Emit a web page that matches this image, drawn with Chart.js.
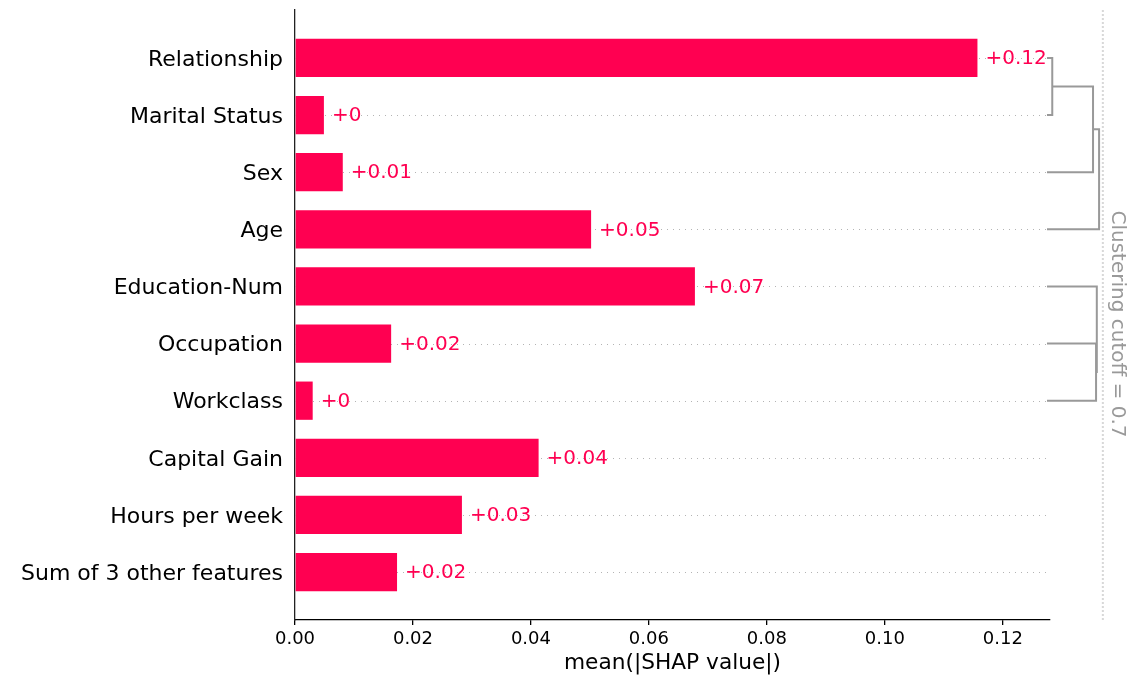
<!DOCTYPE html>
<html>
<head>
<meta charset="utf-8">
<script src="https://cdn.jsdelivr.net/npm/chart.js@4.4.0/dist/chart.umd.min.js"></script>
<style>
  html, body { margin: 0; padding: 0; background: #fff; }
</style>
</head>
<body>
<canvas id="chart" width="1141" height="680"></canvas>
<script>
// features, top to bottom
var features = ['Relationship', 'Marital Status', 'Sex', 'Age', 'Education-Num',
  'Occupation', 'Workclass', 'Capital Gain', 'Hours per week', 'Sum of 3 other features'];
// mean(|SHAP value|)
var meanShap = [0.1157, 0.0049, 0.0081, 0.0502, 0.0678, 0.0163, 0.0030, 0.0413, 0.0283, 0.0173];
var xTicks = [0, 0.02, 0.04, 0.06, 0.08, 0.10, 0.12];
var xMax = 0.128;

// clustering: [nodeA, nodeB, distance]. ids < features.length are leaves,
// every merge gets the next id (10, 11, ...)
var linkage = [
  [0, 1, 0.03],
  [10, 2, 0.57],
  [11, 3, 0.65],
  [5, 6, 0.61],
  [4, 13, 0.62]
];
var leafDist = -0.04;   // leaf stubs start a little inside the axis
var clusterCutoff = 0.7;

var RED = '#ff0051';
var FONT = '"DejaVu Sans", sans-serif';

function fmt(v) {
  return '+' + String(Math.round(v * 100) / 100);
}

var shapExtras = {
  id: 'shapExtras',
  beforeDatasetsDraw: function(chart) {
    var ctx = chart.ctx, area = chart.chartArea, ys = chart.scales.y;
    // dotted row guides
    ctx.save();
    ctx.strokeStyle = '#b4b4b4';
    ctx.lineWidth = 1;
    ctx.setLineDash([1, 5]);
    features.forEach(function(f, i) {
      var py = Math.round(ys.getPixelForValue(i)) + 0.5;
      ctx.beginPath();
      ctx.moveTo(area.left, py);
      ctx.lineTo(area.right, py);
      ctx.stroke();
    });
    ctx.restore();
  },
  afterDatasetsDraw: function(chart) {
    var ctx = chart.ctx, area = chart.chartArea;
    var xs = chart.scales.x, ys = chart.scales.y;
    var meta = chart.getDatasetMeta(0);

    // value labels
    ctx.save();
    ctx.font = '20px ' + FONT;
    ctx.fillStyle = RED;
    ctx.textAlign = 'left';
    ctx.textBaseline = 'middle';
    meta.data.forEach(function(bar, i) {
      ctx.fillText(fmt(meanShap[i]), bar.x + 8, bar.y + 1);
    });
    ctx.restore();

    // dendrogram, distances placed to the right of the axis
    function distX(d) { return xs.getPixelForValue(xMax + d * 0.1 * xMax); }
    var nodeY = features.map(function(f, i) { return i; });
    var nodeD = features.map(function() { return leafDist; });
    ctx.save();
    ctx.strokeStyle = '#999999';
    ctx.lineWidth = 2;
    linkage.forEach(function(l) {
      var a = l[0], b = l[1], d = l[2];
      var ya = ys.getPixelForValue(nodeY[a]), yb = ys.getPixelForValue(nodeY[b]);
      var xm = distX(d);
      ctx.beginPath();
      ctx.moveTo(distX(nodeD[a]), ya);
      ctx.lineTo(xm, ya);
      ctx.lineTo(xm, yb);
      ctx.lineTo(distX(nodeD[b]), yb);
      ctx.stroke();
      nodeY.push((nodeY[a] + nodeY[b]) / 2);
      nodeD.push(d);
    });
    ctx.restore();

    // cutoff line + label
    var cx = distX(clusterCutoff);
    ctx.save();
    ctx.strokeStyle = '#d8d8d8';
    ctx.lineWidth = 2;
    ctx.setLineDash([2, 2]);
    ctx.beginPath();
    ctx.moveTo(cx, area.top);
    ctx.lineTo(cx, area.bottom);
    ctx.stroke();
    ctx.setLineDash([]);
    ctx.translate(cx + 14, (area.top + area.bottom) / 2 + 9);
    ctx.rotate(Math.PI / 2);
    ctx.font = '20px ' + FONT;
    ctx.fillStyle = '#999999';
    ctx.textAlign = 'center';
    ctx.textBaseline = 'middle';
    ctx.fillText('Clustering cutoff = ' + clusterCutoff, 0, 0);
    ctx.restore();
  }
};

new Chart(document.getElementById('chart'), {
  type: 'bar',
  data: {
    datasets: [{
      data: meanShap.map(function(v, i) { return { x: v, y: i }; }),
      backgroundColor: RED,
      borderWidth: 0,
      categoryPercentage: 1,
      barPercentage: 0.67
    }]
  },
  options: {
    indexAxis: 'y',
    responsive: false,
    animation: false,
    layout: { padding: { left: 0, right: 91, top: 10, bottom: 0 } },
    plugins: { legend: { display: false }, tooltip: { enabled: false } },
    scales: {
      x: {
        type: 'linear',
        min: 0,
        max: xMax,
        afterBuildTicks: function(s) { s.ticks = xTicks.map(function(v) { return { value: v }; }); },
        afterFit: function(s) { s.height = 60; s.paddingLeft = 0; s.paddingRight = 0; },
        grid: { display: true, drawOnChartArea: false, drawTicks: true, tickLength: 5, color: '#000', lineWidth: 1.3 },
        border: { display: true, color: '#000', width: 1.3 },
        ticks: {
          color: '#000',
          padding: 4,
          font: { family: FONT, size: 18 },
          callback: function(v) { return Number(v).toFixed(2); }
        },
        title: {
          display: true,
          text: 'mean(|SHAP value|)',
          color: '#000',
          font: { family: FONT, size: 21.7, lineHeight: 1.2 },
          padding: { top: 0, bottom: 4 }
        }
      },
      y: {
        type: 'linear',
        reverse: true,
        offset: false,
        min: -0.84,
        max: features.length - 1 + 0.84,
        afterBuildTicks: function(s) { s.ticks = features.map(function(f, i) { return { value: i }; }); },
        afterFit: function(s) { s.width = 295; s.paddingTop = 0; s.paddingBottom = 0; },
        grid: { display: false, drawTicks: false },
        border: { display: true, color: '#222', width: 1.3 },
        ticks: {
          color: '#000',
          padding: 12,
          labelOffset: 2,
          font: { family: FONT, size: 22 },
          callback: function(v) { return features[v]; }
        }
      }
    }
  },
  plugins: [shapExtras]
});
</script>
</body>
</html>
